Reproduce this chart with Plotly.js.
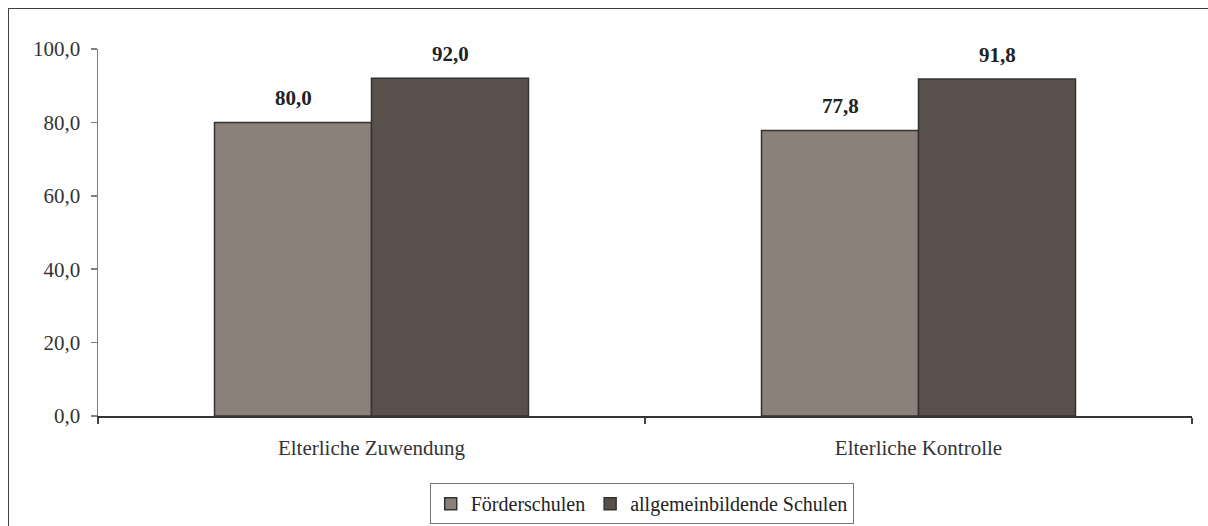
<!DOCTYPE html>
<html>
<head>
<meta charset="utf-8">
<script src="https://cdn.plot.ly/plotly-3.0.1.min.js"></script>
<style>
html,body{margin:0;padding:0;background:#fff;}
#wrap{position:relative;width:1208px;height:526px;overflow:hidden;}
#chart{width:1208px;height:526px;}
#frame{position:absolute;left:8px;top:8px;width:1220px;height:540px;border:1.5px solid #404040;pointer-events:none;box-sizing:border-box;}
</style>
</head>
<body>
<div id="wrap"><div id="chart"></div><div id="frame"></div></div>
<script>
const categories = ["Elterliche Zuwendung", "Elterliche Kontrolle"];
const seriesNames = ["Förderschulen", "allgemeinbildende Schulen"];
const foerderschulen = [80.0, 77.8];
const allgemeinbildende = [92.0, 91.8];
const yTickVals = [0, 20, 40, 60, 80, 100];
const yTickText = ["0,0", "20,0", "40,0", "60,0", "80,0", "100,0"];

const fmt = v => v.toFixed(1).replace('.', ',');
const fontFam = 'Liberation Serif';
const colors = ["#8c807b", "#594f4b"];
const seriesData = [foerderschulen, allgemeinbildende];

const traces = seriesData.map((vals, i) => ({
  type: 'bar',
  name: seriesNames[i],
  x: categories,
  y: vals,
  marker: {color: colors[i], line: {color: '#333333', width: 1.5}},
  hoverinfo: 'none'
}));

const annotations = [];
seriesData.forEach((vals, i) => {
  vals.forEach((v, j) => {
    annotations.push({
      x: categories[j], y: v, xref: 'x', yref: 'y',
      text: '<b>' + fmt(v) + '</b>', showarrow: false,
      xshift: i === 0 ? -78.5 : 78.5, yshift: 10, yanchor: 'bottom',
      font: {family: fontFam, size: 21, color: '#222222'}
    });
  });
});

const layout = {
  width: 1208, height: 526,
  margin: {l: 98, r: 16, t: 49, b: 110, autoexpand: false},
  paper_bgcolor: '#ffffff', plot_bgcolor: '#ffffff',
  font: {family: fontFam, size: 21, color: '#333333'},
  barmode: 'group', bargap: 0.426, bargroupgap: 0,
  showlegend: true,
  legend: {
    orientation: 'h', x: 0.497, xanchor: 'center', y: -0.183, yanchor: 'top',
    bordercolor: '#777777', borderwidth: 1,
    font: {family: fontFam, size: 20, color: '#222222'},
    itemwidth: 30, tracegroupgap: 0
  },
  xaxis: {
    type: 'category', tickson: 'boundaries', ticks: 'outside', ticklen: 6,
    tickcolor: '#444444', tickwidth: 1.5,
    showline: true, linecolor: '#333333', linewidth: 2,
    showgrid: false, zeroline: false, ticklabelstandoff: 12,
    tickfont: {family: fontFam, size: 21, color: '#333333'}, fixedrange: true
  },
  yaxis: {
    range: [0, 100], tickmode: 'array', tickvals: yTickVals, ticktext: yTickText,
    ticks: 'outside', ticklen: 6, tickcolor: '#808080', tickwidth: 1.5,
    showline: true, linecolor: '#808080', linewidth: 1.5,
    showgrid: false, zeroline: false, ticklabelstandoff: 6,
    tickfont: {family: fontFam, size: 21, color: '#333333'}, fixedrange: true
  },
  annotations: annotations
};

Plotly.newPlot('chart', traces, layout, {displayModeBar: false, staticPlot: true});
</script>
</body>
</html>
